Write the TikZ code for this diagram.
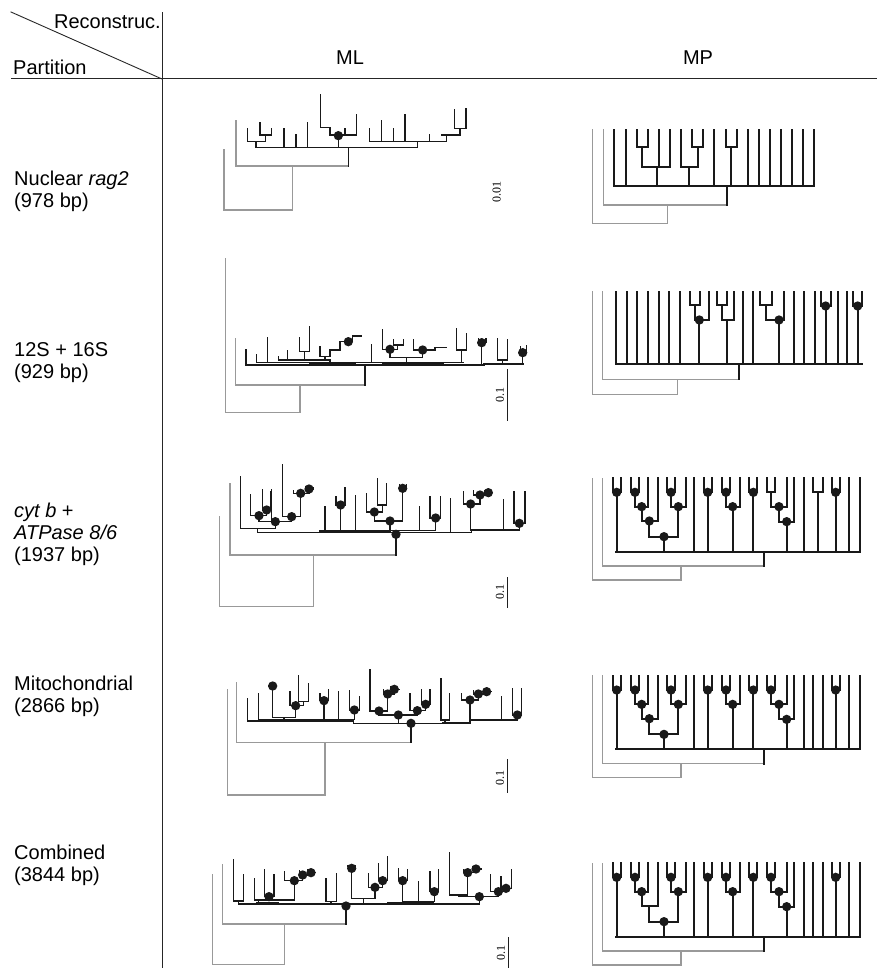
\documentclass[tikz,border=0pt]{standalone}
\usepackage{fontspec}
\setmainfont{Liberation Sans}
\newfontfamily\serfont{Liberation Serif}
\newcommand\tdot[1]{\fill[black!90] #1 circle[radius=14];}
\newcommand\mpbase{%
  \draw[mpg] (37,55)--(37,360)--(303,360)--(303,318);
  \draw[mpg] (68,55)--(68,318)--(553,318);
  \draw[mpb] (553,318)--(553,275);
  \draw[mpb] (108,275)--(840,275);
  \draw[mpb] (98,55)--(98,97)--(122,97)--(122,55) (110,97)--(110,275);
  \draw[mpb] (152,55)--(152,97)--(178,97)--(178,55) (165,97)--(165,140)--(205,140) (205,55)--(205,140)
     (185,140)--(185,183)--(233,183) (233,55)--(233,183) (208,183)--(208,230)--(295,230) (252,230)--(252,275);
  \draw[mpb] (262,55)--(262,97)--(285,97)--(285,55) (273,97)--(273,140)--(318,140) (318,55)--(318,140) (295,140)--(295,230);
  \draw[mpb] (343,55)--(343,275);
  \draw[mpb] (372,55)--(372,97)--(395,97)--(395,55) (383,97)--(383,275);
  \draw[mpb] (427,55)--(427,97)--(450,97)--(450,55) (438,97)--(438,140)--(480,140) (480,55)--(480,140) (458,140)--(458,275);
  \draw[mpb] (508,55)--(508,97)--(532,97)--(532,55) (520,97)--(520,275);
  \draw[mpb] (562,55)--(562,97)--(585,97)--(585,55) (573,97)--(573,140)--(620,140) (620,55)--(620,140)
     (597,140)--(597,185)--(642,185) (642,55)--(642,185) (620,185)--(620,275);
  \draw[mpb] (672,55)--(672,275);
  \draw[mpb] (755,55)--(755,97)--(780,97)--(780,55) (767,97)--(767,275);
  \draw[mpb] (808,55)--(808,275) (840,55)--(840,275);
  \tdot{(110,97)}\tdot{(165,97)}\tdot{(185,140)}\tdot{(252,230)}\tdot{(273,97)}\tdot{(295,140)}
  \tdot{(383,97)}\tdot{(438,97)}\tdot{(458,140)}\tdot{(520,97)}\tdot{(597,140)}\tdot{(620,185)}\tdot{(767,97)}
}
\begin{document}
\begin{tikzpicture}[x=1pt,y=-1pt,line cap=rect,
  mlb/.style={draw=black!90,line width=1.3pt},
  mlg/.style={draw=black!40,line width=1.3pt},
  mpb/.style={draw=black!90,line width=1.8pt},
  mpg/.style={draw=black!40,line width=1.5pt},
  lab/.style={anchor=base west,inner sep=0pt,font=\fontsize{20}{22}\selectfont},
  sc/.style={rotate=90,inner sep=0pt,font=\serfont\fontsize{12}{13}\selectfont},
  sbar/.style={draw=black!88,line width=1.2pt}]
\useasboundingbox (0,0) rectangle (876,968);
% frame
\draw[black!85,line width=0.9pt] (11,12)--(162,79);
\draw[black!85,line width=1pt] (11,79)--(876,79);
\draw[black!85,line width=1pt] (162,13)--(162,968);
\node[lab,anchor=base east] (rec) at (161,29) {Reconstruc.};
\node[lab] (par) at (13,75) {Partition};
\node[lab,anchor=base] (ml) at (350,65) {ML};
\node[lab,anchor=base] (mp) at (698,65) {MP};
\node[lab] (r1a) at (14,186) {Nuclear \textit{rag2}};
\node[lab] (r1b) at (14,208) {(978 bp)};
\node[lab] (r2a) at (14,356) {12S + 16S};
\node[lab] (r2b) at (14,378) {(929 bp)};
\node[lab] (r3a) at (14,517) {\textit{cyt b} +};
\node[lab] (r3b) at (14,539) {\textit{ATPase 8/6}};
\node[lab] (r3c) at (14,561) {(1937 bp)};
\node[lab] (r4a) at (14,690) {Mitochondrial};
\node[lab] (r4b) at (14,712) {(2866 bp)};
\node[lab] (r5a) at (14,859) {Combined};
\node[lab] (r5b) at (14,881) {(3844 bp)};
% scale bars
\node[sc] (s1) at (496.7,191.7) {0.01};
\draw[sbar] (507.7,370)--(507.7,420);
\node[sc] (s2) at (500,395) {0.1};
\draw[sbar] (507.7,578)--(507.7,607);
\node[sc] (s3) at (500,592) {0.1};
\draw[sbar] (507.7,760)--(507.7,792);
\node[sc] (s4) at (500,778) {0.1};
\draw[sbar] (508.3,938)--(508.3,967);
\node[sc] (s5) at (501,953) {0.1};
% ---------- Row 1 ML
\begin{scope}[shift={(210,85)},scale=1/3]
\draw[mlg] (42,195)--(42,375)--(247,375)--(247,243);
\draw[mlg] (78,108)--(78,243)--(415,243);
\draw[mlb] (415,243)--(415,188);
\draw[mlb] (138,188)--(622,188) (138,188)--(138,170);
\draw[mlb] (112,130)--(112,170)--(166,170)--(166,150) (150,112)--(150,150)--(185,150)--(185,130);
\draw[mlb] (222,130)--(222,188) (258,148)--(258,188) (293,112)--(293,188);
\draw[mlb] (332,30)--(332,128)--(360,128)--(360,150) (360,150)--(440,150) (405,130)--(405,150) (440,88)--(440,150) (385,150)--(385,188);
\tdot{(385,152)}
\draw[mlb] (478,170)--(710,170) (478,130)--(478,170) (515,108)--(515,170) (550,130)--(550,170) (585,88)--(585,170) (622,170)--(622,188) (658,150)--(658,170);
\draw[mlb] (695,150)--(750,150) (710,150)--(710,170) (750,150)--(750,130) (733,130)--(768,130) (733,75)--(733,130) (768,70)--(768,130);
\end{scope}
% ---------- Row 1 MP
\begin{scope}[shift={(580,110)},scale=1/3]
\draw[mpg] (38,60)--(38,340)--(262,340)--(262,285);
\draw[mpg] (70,60)--(70,285)--(440,285);
\draw[mpb] (440,285)--(440,228);
\draw[mpb] (103,228)--(703,228);
\foreach \x in {103,137,403,503,537,570,603,637,670,703} \draw[mpb] (\x,60)--(\x,228);
\draw[mpb] (170,60)--(170,112)--(205,112)--(205,60) (187,112)--(187,172)--(270,172) (237,60)--(237,172) (270,60)--(270,172) (232,172)--(232,228);
\draw[mpb] (303,60)--(303,172)--(353,172) (337,60)--(337,112)--(370,112)--(370,60) (353,112)--(353,172) (327,172)--(327,228);
\draw[mpb] (437,60)--(437,112)--(470,112)--(470,60) (453,112)--(453,228);
\end{scope}
% ---------- Row 2 ML
\begin{scope}[shift={(210,250)},scale=1/3]
\draw[mlg] (47,25)--(47,487)--(270,487)--(270,405);
\draw[mlg] (77,265)--(77,405)--(465,405);
\draw[mlb] (465,405)--(465,345);
\draw[mlb] (108,345)--(822,345)--(822,342)--(940,342);
\draw[mlb,line width=2.2pt] (300,341)--(435,341) (520,341)--(700,341);
\draw[mlb] (108,298)--(108,345) (140,313)--(140,338)--(760,338) (172,262)--(172,338);
\draw[mlb] (205,320)--(205,330)--(360,330) (233,303)--(233,330) (360,330)--(360,338);
\draw[mlb] (268,262)--(268,305)--(298,305)--(298,230) (283,305)--(283,330);
\draw[mlb] (330,290)--(330,320)--(360,320)--(360,300)--(390,300)--(390,275)--(428,275)--(428,258)--(455,258) (345,320)--(345,330);
\tdot{(415,275)}
\draw[mlb] (485,283)--(485,338);
\draw[mlb] (518,240)--(518,298)--(562,298)--(562,285) (551,268)--(551,285)--(580,285)--(580,268) (540,298)--(540,322);
\tdot{(540,298)}
\draw[mlb] (611,270)--(611,300)--(675,300)--(675,292)--(708,292) (638,300)--(638,322);
\tdot{(638,300)}
\draw[mlb] (540,322)--(638,322) (590,322)--(590,338);
\draw[mlb] (740,235)--(740,300)--(770,300)--(770,250) (755,300)--(755,338);
\draw[mlb] (805,265)--(805,278)--(828,278)--(828,265) (815,278)--(815,342);
\tdot{(815,278)}
\draw[mlb] (862,267)--(862,330)--(893,330)--(893,268) (878,330)--(878,342);
\draw[mlb] (931,290)--(931,308)--(950,308)--(950,288) (938,308)--(938,342);
\tdot{(938,308)}
\end{scope}
% ---------- Row 2 MP
\begin{scope}[shift={(580,280)},scale=1/3]
\draw[mpg] (37,35)--(37,343)--(292,343)--(292,298);
\draw[mpg] (68,35)--(68,298)--(478,298);
\draw[mpb] (478,298)--(478,253);
\draw[mpb] (107,253)--(846,253);
\foreach \x in {107,140,172,205,237,268,300,488,518,642,672,705,775,800} \draw[mpb] (\x,35)--(\x,253);
\draw[mpb] (330,35)--(330,75)--(360,75)--(360,35) (345,75)--(345,120)--(387,120) (387,35)--(387,120) (358,120)--(358,253);
\tdot{(358,120)}
\draw[mpb] (410,35)--(410,75)--(440,75)--(440,35) (425,75)--(425,120)--(462,120) (462,35)--(462,120) (441,120)--(441,253);
\draw[mpb] (540,35)--(540,75)--(575,75)--(575,35) (557,75)--(557,120)--(612,120) (612,35)--(612,120) (597,120)--(597,253);
\tdot{(597,120)}
\draw[mpb] (722,35)--(722,78)--(752,78)--(752,35) (737,78)--(737,253);
\tdot{(737,78)}
\draw[mpb] (820,35)--(820,78)--(846,78)--(846,35) (833,78)--(833,253);
\tdot{(833,78)}
\end{scope}
% ---------- Row 3 ML
\begin{scope}[shift={(210,450)},scale=1/3]
\draw[mlg] (28,200)--(28,470)--(310,470)--(310,315);
\draw[mlg] (60,100)--(60,315)--(558,315);
\draw[mlb] (558,315)--(558,250);
\draw[mlb] (92,80)--(92,235)--(196,235) (143,235)--(143,248)--(785,248)--(785,240);
\draw[mlb,line width=2.2pt] (330,244)--(540,244);
\draw[mlb] (330,242)--(677,242);
\draw[mlb] (122,135)--(122,197)--(170,197)--(170,180) (157,120)--(157,180)--(183,180)--(183,125)
  (147,197)--(147,215)--(245,215) (185,118)--(185,215) (196,215)--(196,235) (245,200)--(245,215)
  (218,45)--(218,200)--(272,200)--(272,130) (250,122)--(250,130)--(297,130) (297,117)--(297,130)
  (288,110)--(288,117)--(310,117)--(310,112);
\tdot{(147,197)}\tdot{(170,180)}\tdot{(196,215)}\tdot{(245,200)}\tdot{(272,130)}\tdot{(297,117)}
\draw[mlb] (345,170)--(345,242) (437,137)--(437,242) (392,165)--(392,242) (378,140)--(378,165)--(405,165)--(405,113);
\tdot{(392,165)}
\draw[mlb] (470,130)--(470,186)--(518,186)--(518,165) (503,85)--(503,165)--(530,165)--(530,100)
  (493,186)--(493,213)--(578,213)--(578,115) (568,105)--(568,115)--(590,115)--(590,105) (540,213)--(540,242);
\tdot{(493,186)}\tdot{(540,213)}\tdot{(578,115)}
\draw[mlb] (628,170)--(628,242) (660,140)--(660,204)--(692,204)--(692,140) (677,204)--(677,242);
\tdot{(677,204)}
\draw[mlb] (722,145)--(722,248);
\draw[mlb] (760,125)--(760,162)--(810,162)--(810,135) (790,122)--(790,135)--(835,135)--(835,128) (825,122)--(825,128)--(848,128) (782,162)--(782,240);
\tdot{(782,162)}\tdot{(810,135)}\tdot{(835,128)}
\draw[mlb] (782,240)--(928,240) (880,150)--(880,240) (912,125)--(912,220)--(945,220)--(945,125) (928,220)--(928,240);
\tdot{(928,220)}
\tdot{(558,253)}
\end{scope}
% ---------- Row 3 MP
\begin{scope}[shift={(580,460)},scale=1/3]
\mpbase
\draw[mpb] (700,55)--(700,97)--(728,97)--(728,55) (714,97)--(714,275);
\tdot{(208,183)}
\end{scope}
% ---------- Row 4 ML
\begin{scope}[shift={(210,640)},scale=1/3]
\draw[mlg] (52,150)--(52,465)--(345,465)--(345,307);
\draw[mlg] (80,128)--(80,307)--(603,307);
\draw[mlb] (603,307)--(603,250);
\draw[mlb] (112,175)--(112,243)--(430,243)--(430,250)--(780,250)--(780,240)--(922,240);
\draw[mlb,line width=2.2pt] (185,240)--(260,240) (300,242)--(410,242) (700,248)--(775,248);
\draw[mlb] (145,160)--(145,238)--(433,238) (250,238)--(250,243);
\draw[mlb] (188,138)--(188,232)--(257,232) (176,138)--(200,138) (222,232)--(222,238);
\tdot{(188,138)}
\draw[mlb] (240,155)--(240,197)--(280,197)--(280,185) (265,108)--(265,185)--(295,185)--(295,130) (257,197)--(257,232);
\tdot{(257,197)}
\draw[mlb] (330,160)--(330,182)--(355,182)--(355,148) (342,182)--(342,238);
\tdot{(342,182)}
\draw[mlb] (385,155)--(385,238) (418,152)--(418,210)--(448,210)--(448,170) (433,210)--(433,238);
\tdot{(433,210)}
\draw[mlb] (480,90)--(480,213)--(533,213)--(533,162) (520,150)--(520,162)--(553,162)--(553,148) (543,140)--(543,148)--(568,148);
\tdot{(507,213)}\tdot{(533,162)}\tdot{(553,148)}
\draw[mlb] (507,213)--(507,225)--(622,225)--(622,212) (565,225)--(565,250)
  (600,160)--(600,212)--(647,212)--(647,193) (635,150)--(635,193)--(660,193)--(660,148);
\tdot{(565,225)}\tdot{(622,212)}\tdot{(647,193)}
\draw[mlb] (693,115)--(693,240)--(718,240)--(718,160) (705,240)--(705,250);
\draw[mlb] (755,160)--(755,180)--(805,180)--(805,162) (790,152)--(790,162)--(830,162)--(830,155) (820,148)--(820,155)--(845,155) (780,180)--(780,240);
\tdot{(780,180)}\tdot{(805,162)}\tdot{(830,155)}
\draw[mlb] (875,170)--(875,240) (908,145)--(908,225)--(935,225)--(935,145) (922,225)--(922,240);
\tdot{(922,225)}
\tdot{(603,250)}
\end{scope}
% ---------- Row 4 MP
\begin{scope}[shift={(580,657.7)},scale=1/3]
\mpbase
\draw[mpb] (700,55)--(700,275) (728,55)--(728,275);
\tdot{(208,183)}\tdot{(573,97)}
\end{scope}
% ---------- Row 5 ML
\begin{scope}[shift={(200,800)},scale=1/3]
\draw[mlg] (38,225)--(38,493)--(253,493)--(253,372);
\draw[mlg] (68,195)--(68,372)--(438,372);
\draw[mlb] (438,372)--(438,318);
\draw[mlb] (115,312)--(838,312);
\draw[mlb,line width=2.2pt] (170,309)--(235,309) (565,310)--(700,310);
\draw[mlb] (100,178)--(100,303)--(130,303)--(130,225) (115,303)--(115,312);
\draw[mlb] (163,235)--(163,300)--(283,300) (175,300)--(175,312);
\draw[mlb] (193,210)--(193,290)--(222,290)--(222,225) (207,290)--(207,300);
\tdot{(207,290)}
\draw[mlb] (253,215)--(253,242)--(308,242)--(308,225) (283,242)--(283,300) (298,212)--(298,225)--(333,225)--(333,218) (323,210)--(323,218)--(345,218);
\tdot{(283,242)}\tdot{(308,225)}\tdot{(333,218)}
\draw[mlb] (378,235)--(378,305)--(410,305)--(410,220) (393,305)--(393,312);
\draw[mlb] (443,198)--(467,198) (455,205)--(455,295)--(525,295) (490,295)--(490,312);
\tdot{(455,205)}
\draw[mlb] (505,220)--(505,262)--(548,262)--(548,242) (535,190)--(535,242)--(563,242)--(563,170) (525,262)--(525,295);
\tdot{(525,262)}\tdot{(548,242)}
\draw[mlb] (596,205)--(596,242)--(622,242)--(622,210) (608,242)--(608,305)--(703,305) (656,245)--(656,305) (640,305)--(640,312);
\tdot{(608,242)}
\draw[mlb] (690,215)--(690,275)--(715,275)--(715,210) (703,275)--(703,305);
\tdot{(703,275)}
\draw[mlb] (748,158)--(748,285)--(803,285) (803,218)--(803,285) (790,210)--(790,218)--(828,218)--(828,207) (818,200)--(818,207)--(843,207);
\tdot{(803,218)}\tdot{(828,207)}
\draw[mlb] (775,285)--(775,290)--(895,290) (838,290)--(838,312);
\tdot{(838,290)}
\draw[mlb] (872,225)--(872,275)--(918,275) (895,275)--(895,290) (903,230)--(903,265)--(935,265)--(935,210) (918,265)--(918,275);
\tdot{(895,275)}\tdot{(918,265)}
\tdot{(438,318)}
\end{scope}
% ---------- Row 5 MP
\begin{scope}[shift={(580,845)},scale=1/3]
\mpbase
\draw[mpb] (700,55)--(700,275) (728,55)--(728,275);
\tdot{(573,97)}
\end{scope}
\end{tikzpicture}
\end{document}
